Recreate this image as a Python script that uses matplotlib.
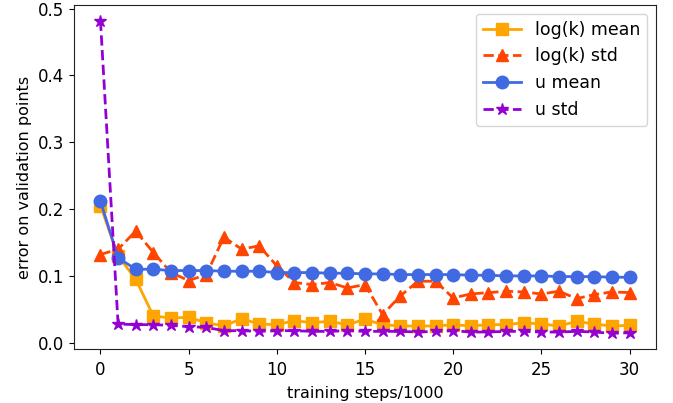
import matplotlib
matplotlib.use("Agg")
import matplotlib.pyplot as plt
import numpy as np

steps = list(range(31))
logk_mean = [0.205, 0.130, 0.095, 0.040, 0.037, 0.038, 0.030, 0.025, 0.036, 0.028,
             0.027, 0.033, 0.030, 0.032, 0.027, 0.035, 0.027, 0.025, 0.025, 0.025,
             0.027, 0.025, 0.027, 0.027, 0.030, 0.028, 0.025, 0.032, 0.028, 0.025, 0.026]
logk_std = [0.132, 0.140, 0.167, 0.135, 0.105, 0.093, 0.102, 0.158, 0.140, 0.145,
            0.115, 0.090, 0.087, 0.090, 0.082, 0.087, 0.042, 0.070, 0.092, 0.092,
            0.067, 0.073, 0.075, 0.077, 0.076, 0.073, 0.077, 0.066, 0.072, 0.076, 0.075]
u_mean = [0.212, 0.127, 0.110, 0.110, 0.108, 0.108, 0.108, 0.107, 0.107, 0.107,
          0.105, 0.105, 0.105, 0.104, 0.104, 0.103, 0.103, 0.102, 0.102, 0.102,
          0.102, 0.101, 0.101, 0.100, 0.100, 0.100, 0.099, 0.099, 0.099, 0.098, 0.098]
u_std = [0.482, 0.028, 0.027, 0.027, 0.026, 0.024, 0.023, 0.018, 0.018, 0.017,
         0.018, 0.018, 0.017, 0.017, 0.018, 0.017, 0.017, 0.017, 0.016, 0.017,
         0.018, 0.016, 0.016, 0.017, 0.017, 0.016, 0.016, 0.017, 0.016, 0.014, 0.015]

plt.rcParams["font.size"] = 11.5
plt.rcParams["xtick.labelsize"] = 12
plt.rcParams["ytick.labelsize"] = 12
plt.rcParams["xtick.major.pad"] = 5
plt.rcParams["axes.edgecolor"] = "#222222"

fig = plt.figure(figsize=(6.73, 4.03), dpi=100)
ax = fig.add_axes([74/673, 1 - 349/403, (656-74)/673, (349-5)/403])

ax.plot(steps, logk_mean, color="orange", marker="s", linestyle="-", lw=2, ms=9, label="log(k) mean")
ax.plot(steps, logk_std, color="orangered", marker="^", linestyle="--", lw=2, ms=9, label="log(k) std")
ax.plot(steps, u_mean, color="royalblue", marker="o", linestyle="-", lw=2, ms=9, label="u mean")
ax.plot(steps, u_std, color="darkviolet", marker="*", linestyle="--", lw=2, ms=9, label="u std")

ax.set_xticks([0, 5, 10, 15, 20, 25, 30])
ax.set_yticks([0.0, 0.1, 0.2, 0.3, 0.4, 0.5])
ax.set_xlabel("training steps/1000", labelpad=5)
ax.set_ylabel("error on validation points")
ax.legend(loc="upper right", fontsize=12.5, handlelength=2.2)

fig.savefig("out.png", dpi=100)
